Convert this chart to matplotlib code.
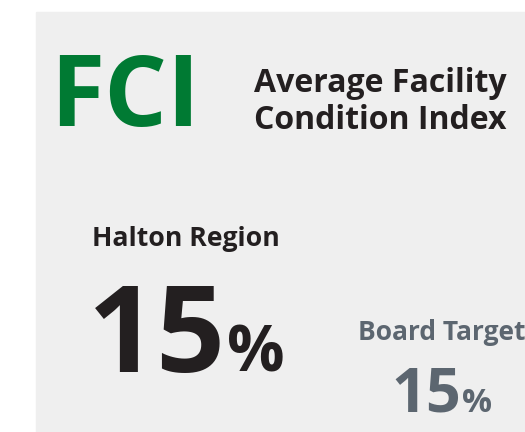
import matplotlib
matplotlib.use('Agg')
import matplotlib.pyplot as plt
from matplotlib.patches import Rectangle

# data
indexLabel = 'FCI'
indexTitle = ['Average Facility', 'Condition Index']
groups = ['Halton Region', 'Board Target']
values = [15, 15]

green = '#007a33'
dark = '#231f20'
grey = '#5c6670'
panel = '#efefef'

plt.rcParams['font.family'] = ['Open Sans', 'DejaVu Sans']

fig = plt.figure(figsize=(5.25, 4.32), dpi=100)
ax = fig.add_axes([0, 0, 1, 1])
ax.set_xlim(0, 525)
ax.set_ylim(432, 0)
ax.axis('off')

ax.add_patch(Rectangle((36, 12), 489, 420, color=panel, zorder=0))

ax.text(50, 126, indexLabel, fontsize=71, fontweight='bold', color=green, va='baseline')
ax.text(254, 92, indexTitle[0], fontsize=23, fontweight='bold', color=dark, va='baseline')
ax.text(254, 129, indexTitle[1], fontsize=23, fontweight='bold', color=dark, va='baseline')

fig.canvas.draw()
renderer = fig.canvas.get_renderer()


def value_text(x, y, val, size, psize, col):
    t = ax.text(x, y, str(val), fontsize=size, fontweight='bold', color=col, va='baseline')
    bb = t.get_window_extent(renderer)
    xr = ax.transData.inverted().transform((bb.x1, bb.y0))[0]
    ax.text(xr + 1, y, '%', fontsize=psize, fontweight='bold', color=col, va='baseline')


ax.text(92, 246, groups[0], fontsize=19.2, fontweight='bold', color=dark, va='baseline')
value_text(88, 372, values[0], 87, 46, dark)

ax.text(358, 340, groups[1], fontsize=19, fontweight='bold', color=grey, va='baseline')
value_text(391, 412, values[1], 44, 24, grey)

fig.savefig('out.png', dpi=100)
